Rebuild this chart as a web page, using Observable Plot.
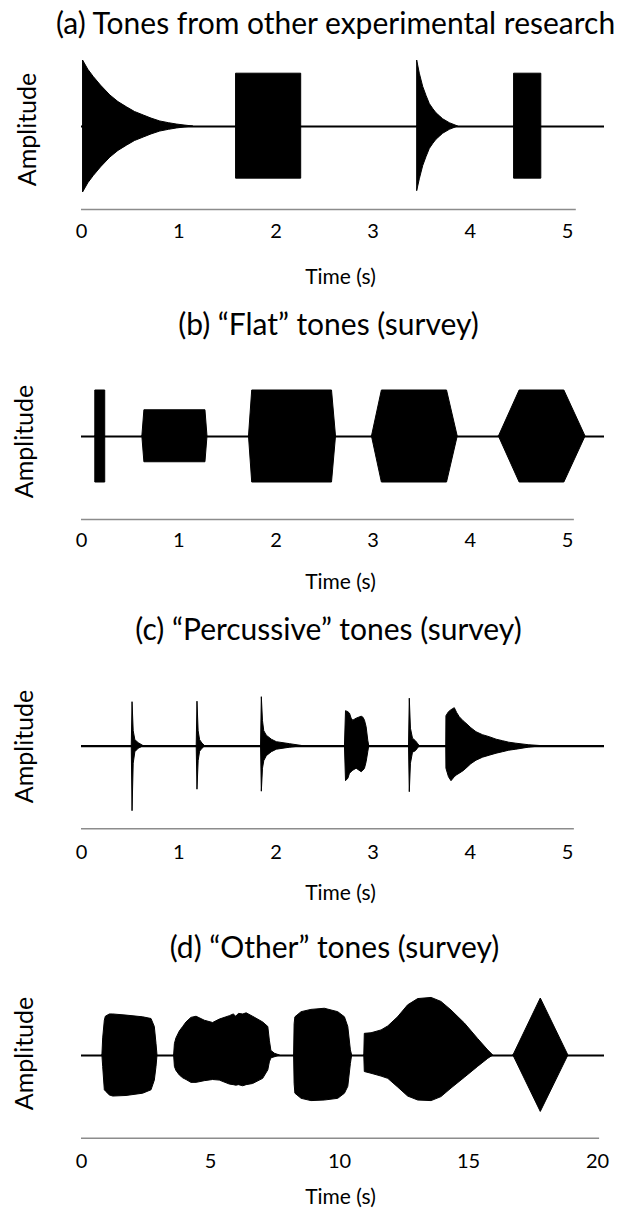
<!DOCTYPE html>
<html>
<head>
<meta charset="utf-8">
<script src="https://cdn.jsdelivr.net/npm/d3@7"></script>
<script src="https://cdn.jsdelivr.net/npm/@observablehq/plot@0.6"></script>
<style>
  html, body { margin: 0; padding: 0; background: #fff; }
  #chart { width: 629px; }
  #chart svg { display: block; }
</style>
</head>
<body>
<div id="chart"></div>
<script>
// ---------- Titles and tick labels ----------
const panelTitles = [
  "(a) Tones from other experimental research",
  "(b) \u201cFlat\u201d tones (survey)",
  "(c) \u201cPercussive\u201d tones (survey)",
  "(d) \u201cOther\u201d tones (survey)"
];
const yLabel = "Amplitude";
const xLabel = "Time (s)";
const ticksShort = [0, 1, 2, 3, 4, 5];
const ticksLong = [0, 5, 10, 15, 20];

// ---------- Envelopes: each tone is a list of [time (s), upper amplitude, lower amplitude] ----------
const experimentalTones = [
  [[0.016,0,0],[0.016,1,1],[0.07,0.86,0.86],[0.126,0.75,0.75],[0.2,0.62,0.62],[0.297,0.47,0.47],[0.38,0.37,0.37],[0.468,0.29,0.29],[0.55,0.22,0.22],[0.64,0.167,0.167],[0.72,0.12,0.12],[0.81,0.076,0.076],[0.9,0.05,0.05],[0.98,0.03,0.03],[1.06,0.015,0.015],[1.15,0,0]],
  [[1.59,0,0],[1.59,0.8,0.79],[2.26,0.8,0.79],[2.26,0,0]],
  [[3.453,0,0],[3.453,1,0.98],[3.48,0.8,0.8],[3.515,0.6,0.6],[3.55,0.46,0.46],[3.583,0.34,0.34],[3.62,0.26,0.26],[3.652,0.2,0.2],[3.69,0.15,0.15],[3.72,0.11,0.11],[3.789,0.05,0.05],[3.874,0,0]],
  [[4.45,0,0],[4.45,0.8,0.79],[4.73,0.8,0.79],[4.73,0,0]]
];

const flatTones = [
  [[0.142,0,0],[0.142,1,1],[0.244,1,1],[0.244,0,0]],
  [[0.626,0,0],[0.647,0.57,0.56],[1.275,0.57,0.56],[1.296,0,0]],
  [[1.723,0,0],[1.756,1,1],[2.577,1,1],[2.618,0,0]],
  [[2.988,0,0],[3.09,1,1],[3.76,1,1],[3.87,0,0]],
  [[4.294,0,0],[4.507,1,1],[4.967,1,1],[5.185,0,0]]
];

const percussiveTones = [
  [[0.517,0,0],[0.525,0.88,1.3],[0.537,0.3,0.35],[0.554,0.12,0.12],[0.589,0.06,0.05],[0.64,0,0]],
  [[1.185,0,0],[1.193,0.89,0.87],[1.205,0.3,0.3],[1.22,0.12,0.11],[1.245,0.05,0.05],[1.273,0,0]],
  [[1.847,0,0],[1.855,0.98,0.91],[1.867,0.5,0.45],[1.88,0.3,0.3],[1.906,0.21,0.2],[1.958,0.13,0.12],[2.009,0.08,0.07],[2.146,0.04,0.03],[2.283,0,0]],
  [[2.71,0,0],[2.721,0.70,0.70],[2.745,0.68,0.65],[2.762,0.65,0.55],[2.779,0.55,0.52],[2.796,0.51,0.49],[2.83,0.55,0.45],[2.882,0.59,0.52],[2.9,0.57,0.49],[2.916,0.51,0.45],[2.933,0.38,0.32],[2.95,0.11,0.12],[2.96,0,0]],
  [[3.369,0,0],[3.377,0.95,0.92],[3.389,0.35,0.35],[3.41,0.15,0.13],[3.44,0.1,0.1],[3.46,0.05,0.05],[3.48,0,0]],
  [[3.752,0,0],[3.754,0.6,0.45],[3.78,0.68,0.62],[3.806,0.72,0.70],[3.84,0.76,0.62],[3.865,0.66,0.58],[3.891,0.58,0.55],[3.93,0.5,0.5],[3.96,0.45,0.45],[4.01,0.36,0.36],[4.063,0.28,0.29],[4.13,0.22,0.23],[4.199,0.18,0.19],[4.27,0.13,0.15],[4.336,0.10,0.12],[4.4,0.07,0.09],[4.473,0.05,0.07],[4.6,0.02,0.03],[4.747,0,0]]
];

const otherTones = [
  [[0.81,0,0],[0.84,0.3,0.2],[0.904,0.61,0.61],[0.943,0.68,0.63],[1.098,0.72,0.70],[1.228,0.72,0.72],[1.744,0.70,0.71],[2.39,0.67,0.67],[2.713,0.64,0.61],[2.842,0.50,0.44],[2.907,0.2,0.2],[2.946,0,0]],
  [[3.59,0,0],[3.62,0.2,0.2],[3.68,0.3,0.27],[3.81,0.42,0.35],[3.94,0.5,0.40],[4.07,0.58,0.43],[4.26,0.66,0.48],[4.46,0.68,0.48],[4.78,0.61,0.45],[5.10,0.57,0.43],[5.36,0.63,0.44],[5.75,0.69,0.51],[5.9,0.72,0.52],[6.0,0.68,0.53],[6.1,0.73,0.52],[6.27,0.72,0.54],[6.4,0.74,0.52],[6.65,0.68,0.50],[7.04,0.58,0.41],[7.24,0.5,0.26],[7.30,0.26,0.12],[7.36,0.08,0.05],[7.5,0.03,0.03],[7.69,0,0]],
  [[8.24,0,0],[8.26,0.55,0.5],[8.29,0.67,0.67],[8.53,0.76,0.76],[8.91,0.80,0.80],[9.43,0.82,0.79],[9.95,0.76,0.76],[10.21,0.67,0.67],[10.34,0.5,0.55],[10.44,0.09,0.15],[10.49,0,0]],
  [[10.96,0,0],[10.98,0.38,0.29],[11.24,0.39,0.32],[11.63,0.44,0.37],[11.89,0.51,0.41],[12.27,0.67,0.56],[12.66,0.88,0.72],[13.05,0.99,0.79],[13.57,1.01,0.80],[13.95,0.94,0.73],[14.34,0.79,0.58],[14.86,0.56,0.39],[15.37,0.29,0.2],[15.76,0.09,0.06],[15.96,0,0]],
  [[16.74,0,0],[17.8,1,0.99],[18.87,0,0]]
];

// ---------- Layout (page pixels, not data) ----------
const FONT = "Lato, 'Open Sans', sans-serif";
const LEFT = 81, RIGHT_EDGE = 604;
const layouts = [
  {tones: experimentalTones, title: panelTitles[0], ticks: ticksShort, xMax: 5.38, axisEnd: 5.09,
   height: 300, center: 126, amp: 66, axis: 209, titleY: 24, titleX: 335, tickY: 230, timeY: 277, ampX: 27, ampY: 129},
  {tones: flatTones, title: panelTitles[1], ticks: ticksShort, xMax: 5.38, axisEnd: 5.07,
   height: 300, center: 136, amp: 46, axis: 219, titleY: 25, titleX: 328, tickY: 239, timeY: 282, ampX: 24, ampY: 141},
  {tones: percussiveTones, title: panelTitles[2], ticks: ticksShort, xMax: 5.38, axisEnd: 5.07,
   height: 305, center: 145.7, amp: 50, axis: 228.3, titleY: 30, titleX: 328, tickY: 251.5, timeY: 293, ampX: 24, ampY: 146},
  {tones: otherTones, title: panelTitles[3], ticks: ticksLong, xMax: 20.27, axisEnd: 20.08,
   height: 304, center: 150, amp: 57, axis: 232.7, titleY: 43.3, titleX: 334, tickY: 255, timeY: 291.7, ampX: 24, ampY: 148}
];

const TICK_FS = 20, TITLE_FS = 30, AMP_FS = 25, TIME_FS = 21;

function panel(c) {
  const rows = c.tones.flatMap((tone, i) => tone.map(([t, up, down]) => ({tone: i, t, hi: up, lo: -down})));
  const marginBottom = c.height - c.axis;
  const yAxisVal = -(c.axis - c.center) / c.amp;
  const frameCx = (LEFT + RIGHT_EDGE) / 2;
  const frameCy = c.axis / 2;
  const centered = {textAnchor: "middle", lineAnchor: "middle", fill: "#000"};
  return Plot.plot({
    width: 629,
    height: c.height,
    marginLeft: LEFT,
    marginRight: 629 - RIGHT_EDGE,
    marginTop: 0,
    marginBottom,
    x: {domain: [0, c.xMax], label: null},
    y: {domain: [-1, 1], range: [c.center + c.amp, c.center - c.amp], axis: null},
    style: {fontFamily: FONT, color: "#000", background: "#fff", overflow: "visible"},
    marks: [
      Plot.ruleY([0], {x1: 0, x2: c.xMax, stroke: "#000", strokeWidth: 2.2}),
      Plot.areaY(rows, {x: "t", y1: "lo", y2: "hi", z: "tone", fill: "#000", stroke: "#000", strokeWidth: 1, curve: "linear"}),
      Plot.ruleY([yAxisVal], {x1: 0, x2: c.axisEnd, stroke: "#8c8c8c", strokeWidth: 1.4}),
      Plot.axisX(c.ticks, {anchor: "bottom", tickSize: 0, tickPadding: c.tickY - c.axis - 0.35 * TICK_FS,
        fontSize: TICK_FS, tickFormat: d => String(d), label: null, fill: "#000"}),
      Plot.text([c.title], {...centered, frameAnchor: "top", dx: c.titleX - frameCx, dy: c.titleY, fontSize: TITLE_FS}),
      Plot.text([yLabel], {...centered, frameAnchor: "left", rotate: -90, dx: c.ampX - LEFT, dy: c.ampY - frameCy, fontSize: AMP_FS}),
      Plot.text([xLabel], {...centered, frameAnchor: "bottom", dx: 340 - frameCx, dy: c.timeY - c.axis, fontSize: TIME_FS})
    ]
  });
}

const root = document.getElementById("chart");
for (const c of layouts) root.appendChild(panel(c));
</script>
</body>
</html>
